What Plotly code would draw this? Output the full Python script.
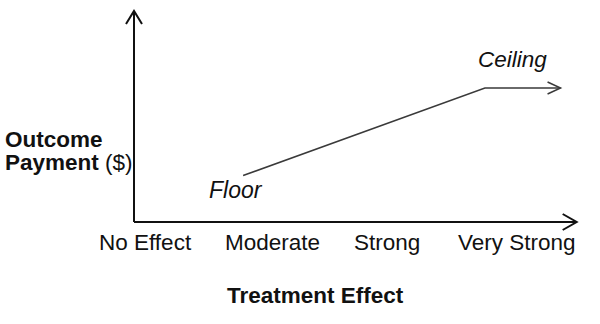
import plotly.graph_objects as go

# Treatment-effect levels and where their labels sit along the effect axis
effect_levels = ["No Effect", "Moderate", "Strong", "Very Strong"]
effect_label_pos = [0.09, 1.12, 2.04, 3.09]

# Outcome payment schedule: floor, rise, then capped at the ceiling
payment_x = [0.88, 2.83, 3.44]
payment_y = [0.22, 0.635, 0.635]

# Axis extents (arrow tips)
x_axis_end = 3.57
y_axis_end = 1.0

FONT = "Liberation Sans, Arial, sans-serif"
TXT = "#111111"
SIZE = 22.5
W, H = 600, 324
PX_X, PX_Y = 124.0, 211.0          # pixels per data unit
ORIGIN_X, ORIGIN_Y = 134.0, 222.0  # pixel position of the origin

fig = go.Figure()

# Payment curve
fig.add_trace(go.Scatter(
    x=payment_x, y=payment_y, mode="lines",
    line=dict(color="#3a3a3a", width=1.5), hoverinfo="skip", showlegend=False,
))

# Axes lines
fig.add_trace(go.Scatter(
    x=[0, x_axis_end], y=[0, 0], mode="lines",
    line=dict(color="#111111", width=2), hoverinfo="skip", showlegend=False,
))
fig.add_trace(go.Scatter(
    x=[0, 0], y=[0, y_axis_end], mode="lines",
    line=dict(color="#111111", width=2), hoverinfo="skip", showlegend=False,
))


def chevron(tip_x, tip_y, path, color, width):
    # open arrowhead drawn in pixel units around a data-space tip
    return dict(
        type="path", xref="x", yref="y", xsizemode="pixel", ysizemode="pixel",
        xanchor=tip_x, yanchor=tip_y, path=path,
        line=dict(color=color, width=width), fillcolor="rgba(0,0,0,0)",
    )


shapes = [
    chevron(0, y_axis_end, "M -8,-13 L 0,0 L 8,-13", "#111111", 2),
    chevron(x_axis_end, 0, "M -14,8 L 0,0 L -14,-8", "#111111", 2),
    chevron(payment_x[-1], payment_y[-1], "M -13,6 L 0,0 L -13,-6", "#3a3a3a", 1.5),
]

annotations = []
for lab, pos in zip(effect_levels, effect_label_pos):
    annotations.append(dict(
        x=pos, y=-0.0995, xref="x", yref="y", text=lab, showarrow=False,
        xanchor="center", yanchor="middle",
        font=dict(family=FONT, size=SIZE, color=TXT),
    ))

annotations += [
    dict(x=0.823, y=0.152, xref="x", yref="y", text="<i>Floor</i>", showarrow=False,
         xanchor="center", yanchor="middle", font=dict(family=FONT, size=23, color=TXT)),
    dict(x=3.056, y=0.768, xref="x", yref="y", text="<i>Ceiling</i>", showarrow=False,
         xanchor="center", yanchor="middle", font=dict(family=FONT, size=SIZE, color=TXT)),
    dict(x=315 / W, y=1 - 295 / H, xref="paper", yref="paper", text="<b>Treatment Effect</b>",
         showarrow=False, xanchor="center", yanchor="middle",
         font=dict(family=FONT, size=SIZE, color=TXT)),
    dict(x=3 / W, y=1 - 139 / H, xref="paper", yref="paper", text="<b>Outcome</b>",
         showarrow=False, xanchor="left", yanchor="middle",
         font=dict(family=FONT, size=SIZE, color=TXT)),
    dict(x=3 / W, y=1 - 162 / H, xref="paper", yref="paper", text="<b>Payment</b> ($)",
         showarrow=False, xanchor="left", yanchor="middle",
         font=dict(family=FONT, size=SIZE, color=TXT)),
]

fig.update_layout(
    width=W, height=H,
    margin=dict(l=0, r=0, t=0, b=0),
    paper_bgcolor="white", plot_bgcolor="white",
    showlegend=False,
    xaxis=dict(range=[-ORIGIN_X / PX_X, (W - ORIGIN_X) / PX_X], visible=False, fixedrange=True),
    yaxis=dict(range=[-(H - ORIGIN_Y) / PX_Y, ORIGIN_Y / PX_Y], visible=False, fixedrange=True),
    shapes=shapes,
    annotations=annotations,
)

fig.write_html("out.html")
